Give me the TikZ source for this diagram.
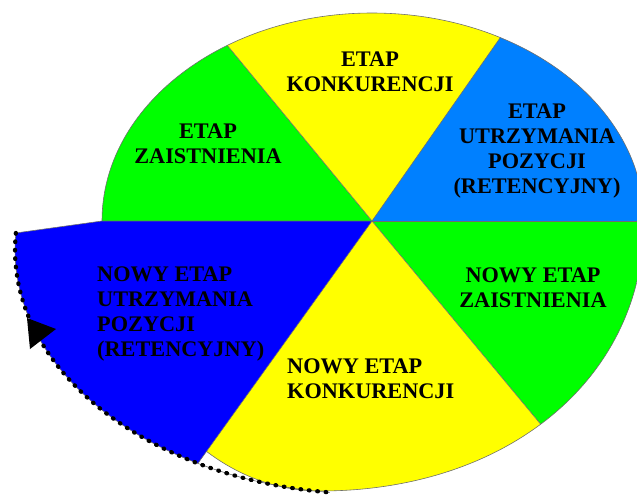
\documentclass[tikz,border=0pt]{standalone}
\usepackage{fontspec}
\setmainfont{Liberation Serif}
\usetikzlibrary{calc}
\definecolor{piegreen}{RGB}{0,255,0}
\definecolor{pieyellow}{RGB}{255,255,0}
\definecolor{pieblue}{RGB}{0,128,255}
\definecolor{newblue}{RGB}{0,0,255}
\definecolor{rimgray}{RGB}{110,110,110}
% outer rim of the pie
\newcommand{\pierim}{(102,221) .. controls (102,106) and (223,13) .. (372,13)
  .. controls (522,13) and (644,106) .. (644,221)
  .. controls (644,378) and (508,491) .. (320,491)
  .. controls (200,491) and (102,370) .. (102,221) -- cycle}

\begin{document}
\begin{tikzpicture}[x=0.03cm, y=-0.03cm,
    sector/.style={draw=rimgray, line width=0.5pt},
    stage/.style={font=\fontsize{19}{21.5}\selectfont\bfseries, inner sep=0pt},
    beads/.style={black, line width=3.6pt, line cap=round, dash pattern=on 0.6pt off 6.6pt}]
    \useasboundingbox (0,0) rectangle (637,494);
    % Centre and points on the rim
    \coordinate (C) at (372,221);
    \coordinate (pL) at (102,221);
    \coordinate (pUL) at (227,45);
    \coordinate (pUR) at (500,38);
    \coordinate (pR) at (644,221);
    \coordinate (pDR) at (543,427);
    \coordinate (pDL) at ({370+355*cos(119)},{250+244*sin(119)});
    \coordinate (bT) at ({370+355*cos(184)},{250+244*sin(184)});
    % Sectors, clipped by the rim
    \begin{scope}
        \clip \pierim;
        \fill[piegreen] (C) -- ($(C)!3!(pL)$) -- ($(C)!3!(pUL)$) -- cycle;
        \fill[pieyellow] (C) -- ($(C)!3!(pUL)$) -- ($(C)!3!(pUR)$) -- cycle;
        \fill[pieblue] (C) -- ($(C)!3!(pUR)$) -- ($(C)!3!(pR)$) -- cycle;
        \fill[piegreen] (C) -- ($(C)!3!(pR)$) -- ($(C)!3!(pDR)$) -- cycle;
        \fill[pieyellow] (C) -- ($(C)!3!(pDR)$) -- ($(C)!3!(pDL)$) -- cycle;
        % dividing lines
        \draw[sector] (C) -- ($(C)!1.2!(pUL)$);
        \draw[sector] (C) -- ($(C)!1.2!(pUR)$);
        \draw[sector] (C) -- ($(C)!1.2!(pR)$);
        \draw[sector] (C) -- ($(C)!1.2!(pDR)$);
    \end{scope}
    \draw[sector] \pierim;
    % The new stage, pulled out to the left
    \fill[newblue] (C) -- (pL) -- plot[domain=184:119, samples=40]
        ({370+355*cos(\x)},{250+244*sin(\x)}) -- cycle;
    \draw[sector] (pDL) -- (C) -- (pL) -- (bT);
    \draw[sector] plot[domain=184:96.5, samples=60] ({370+355*cos(\x)},{250+244*sin(\x)});
    \draw[beads] plot[domain=184:96.5, samples=60] ({370+355*cos(\x)},{250+244*sin(\x)});
    \fill[black] (27,318) -- (56,329) -- (30,349) -- cycle;
    % Labels
    \node[stage, align=center] (zaist) at (208,144) {ETAP\\ZAISTNIENIA};
    \node[stage, align=center] (konk) at (370,72) {ETAP\\KONKURENCJI};
    \node[stage, align=center] (retenc) at (537,151) {ETAP\\UTRZYMANIA\\POZYCJI\\(RETENCYJNY)};
    \node[stage, align=center] (nzaist) at (533,288) {NOWY ETAP\\ZAISTNIENIA};
    \node[stage, align=left, anchor=west] (nkonk) at (287,379) {NOWY ETAP\\KONKURENCJI};
    \node[stage, align=left, anchor=west] (nretenc) at (97,314) {NOWY ETAP\\UTRZYMANIA\\POZYCJI\\(RETENCYJNY)};
\end{tikzpicture}
\end{document}
